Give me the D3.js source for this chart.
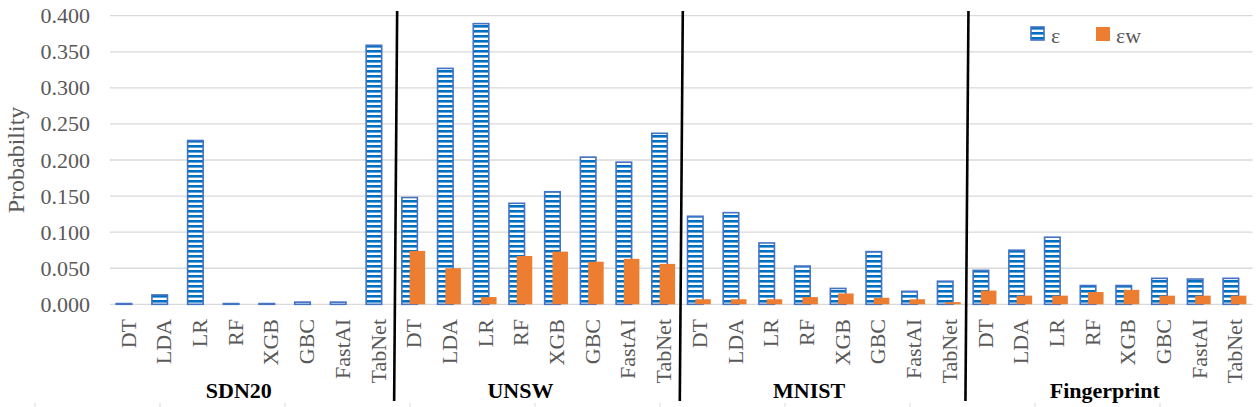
<!DOCTYPE html>
<html>
<head>
<meta charset="utf-8">
<script src="https://cdn.jsdelivr.net/npm/d3@7"></script>
<style>
  body { margin: 0; background: #fff; }
  svg { display: block; }
  svg text { font-family: "Liberation Serif", "Times New Roman", serif !important; }
</style>
</head>
<body>
<svg id="chart" width="1257" height="407" font-family="Liberation Serif, serif"></svg>
<script>
// datasets (outer groups) and models (inner categories)
var groups = ["SDN20", "UNSW", "MNIST", "Fingerprint"];
var models = ["DT", "LDA", "LR", "RF", "XGB", "GBC", "FastAI", "TabNet"];
var yTicks = [0, 0.05, 0.1, 0.15, 0.2, 0.25, 0.3, 0.35, 0.4];

// epsilon, per group, in model order
var epsSDN20 = [0.001, 0.013, 0.227, 0.001, 0.001, 0.003, 0.003, 0.359];
var epsUNSW = [0.148, 0.327, 0.389, 0.140, 0.156, 0.204, 0.197, 0.237];
var epsMNIST = [0.122, 0.127, 0.085, 0.053, 0.022, 0.073, 0.018, 0.032];
var epsFinger = [0.047, 0.075, 0.093, 0.026, 0.026, 0.036, 0.035, 0.036];

// epsilon-w, per group, in model order
var epswSDN20 = [0, 0, 0, 0, 0, 0, 0, 0];
var epswUNSW = [0.074, 0.050, 0.010, 0.067, 0.073, 0.059, 0.063, 0.056];
var epswMNIST = [0.007, 0.007, 0.007, 0.010, 0.015, 0.009, 0.007, 0.003];
var epswFinger = [0.019, 0.012, 0.012, 0.017, 0.020, 0.012, 0.012, 0.012];

var seriesNames = ["\u03b5", "\u03b5w"];

(function(){
	var svg = d3.select('#chart');
	var serif = 'Liberation Serif, Times New Roman, serif';
	var left = 110, right = 1252.6, top = 15.7, bottom = 304.3;

	var eps = [epsSDN20, epsUNSW, epsMNIST, epsFinger];
	var epsw = [epswSDN20, epswUNSW, epswMNIST, epswFinger];

	// flat list of categories
	var rows = [];
	groups.forEach(function(g, gi){
		models.forEach(function(m, mi){
			rows.push({ key: g + '|' + m, group: g, gi: gi, model: m, e: eps[gi][mi], w: epsw[gi][mi] });
		});
	});

	var x = d3.scaleBand()
		.domain(rows.map(function(d){ return d.key; }))
		.range([left, right])
		.paddingInner(0)
		.paddingOuter(0);
	var y = d3.scaleLinear().domain([0, 0.4]).range([bottom, top]);

	var bw = x.bandwidth();
	var barW = bw / 2.3;           // gap width 80%, overlap 50%
	var gap = (bw - barW * 1.5) / 2;

	// stripe pattern for epsilon bars
	var defs = svg.append('defs');
	var pat = defs.append('pattern')
		.attr('id', 'stripes')
		.attr('patternUnits', 'userSpaceOnUse')
		.attr('width', 6).attr('height', 5);
	pat.append('rect').attr('width', 6).attr('height', 5).attr('fill', '#ffffff');
	pat.append('rect').attr('width', 6).attr('height', 2.6).attr('fill', '#0070C0');

	// gridlines
	svg.append('g')
		.selectAll('line')
		.data(yTicks)
		.enter().append('line')
		.attr('x1', left).attr('x2', right)
		.attr('y1', function(d){ return y(d); })
		.attr('y2', function(d){ return y(d); })
		.attr('stroke', '#D9D9D9')
		.attr('stroke-width', 1.3);

	// y axis labels
	var yAxis = d3.axisLeft(y).tickValues(yTicks).tickFormat(d3.format('.3f')).tickSize(0).tickPadding(20);
	var ya = svg.append('g').attr('transform', 'translate(' + left + ',0)').call(yAxis);
	ya.attr('font-family', serif).attr('font-size', 22);
	ya.select('.domain').remove();
	ya.selectAll('text')
		.attr('fill', '#595959')
		.attr('font-family', serif);

	svg.append('text')
		.attr('transform', 'translate(24,160) rotate(-90)')
		.attr('text-anchor', 'middle')
		.attr('fill', '#595959')
		.attr('font-family', serif)
		.attr('font-size', 24)
		.text('Probability');

	// epsilon bars
	svg.append('g')
		.selectAll('rect')
		.data(rows)
		.enter().append('rect')
		.attr('x', function(d){ return x(d.key) + gap; })
		.attr('y', function(d){ return y(d.e); })
		.attr('width', barW)
		.attr('height', function(d){ return bottom - y(d.e); })
		.attr('fill', 'url(#stripes)')
		.attr('stroke', '#4472C4')
		.attr('stroke-width', 1.6);

	// epsilon-w bars
	svg.append('g')
		.selectAll('rect')
		.data(rows.filter(function(d){ return d.w > 0; }))
		.enter().append('rect')
		.attr('x', function(d){ return x(d.key) + gap + barW / 2; })
		.attr('y', function(d){ return y(d.w); })
		.attr('width', barW)
		.attr('height', function(d){ return bottom - y(d.w); })
		.attr('fill', '#ED7D31');

	// category labels
	svg.append('g')
		.selectAll('text')
		.data(rows)
		.enter().append('text')
		.attr('transform', function(d){
			return 'translate(' + (x(d.key) + bw / 2) + ',319) rotate(-90)';
		})
		.attr('dy', '0.35em')
		.attr('text-anchor', 'end')
		.attr('fill', '#595959')
		.attr('font-family', serif)
		.attr('font-size', 22)
		.text(function(d){ return d.model; });

	// group labels
	var nudge = [-14, -18, -15, -5];
	svg.append('g')
		.selectAll('text')
		.data(groups)
		.enter().append('text')
		.attr('x', function(g, i){
			var a = x(g + '|' + models[0]), b = x(g + '|' + models[models.length - 1]) + bw;
			return (a + b) / 2 + nudge[i];
		})
		.attr('y', 398)
		.attr('text-anchor', 'middle')
		.attr('fill', '#000')
		.attr('font-family', serif)
		.attr('font-size', 22)
		.attr('font-weight', 'bold')
		.text(function(g){ return g; });

	// separators between groups
	svg.append('g')
		.selectAll('line')
		.data(groups.slice(1))
		.enter().append('line')
		.attr('x1', function(g){ return x(g + '|' + models[0]) + 1.5; })
		.attr('x2', function(g){ return x(g + '|' + models[0]) - 1.5; })
		.attr('y1', 11).attr('y2', 401)
		.attr('stroke', '#000')
		.attr('stroke-width', 2.6);

	// faint marks along the bottom edge
	svg.append('g')
		.selectAll('line')
		.data(d3.range(10))
		.enter().append('line')
		.attr('x1', function(i){ return 35 + i * 125; })
		.attr('x2', function(i){ return 35 + i * 125; })
		.attr('y1', 403).attr('y2', 407)
		.attr('stroke', '#D9D9D9')
		.attr('stroke-width', 1);

	// legend
	var lg = svg.append('g').attr('transform', 'translate(1031,27)')
		.attr('font-family', serif).attr('font-size', 22);
	lg.append('rect').attr('width', 13).attr('height', 13)
		.attr('fill', 'url(#stripes)').attr('stroke', '#4472C4').attr('stroke-width', 1.6);
	lg.append('text').attr('x', 20).attr('y', 16).attr('fill', '#595959')
		.attr('font-family', serif).text(seriesNames[0]);
	lg.append('rect').attr('x', 65).attr('width', 14).attr('height', 14).attr('fill', '#ED7D31');
	lg.append('text').attr('x', 85).attr('y', 16).attr('fill', '#595959')
		.attr('font-family', serif).text(seriesNames[1]);
}());
</script>
</body>
</html>
